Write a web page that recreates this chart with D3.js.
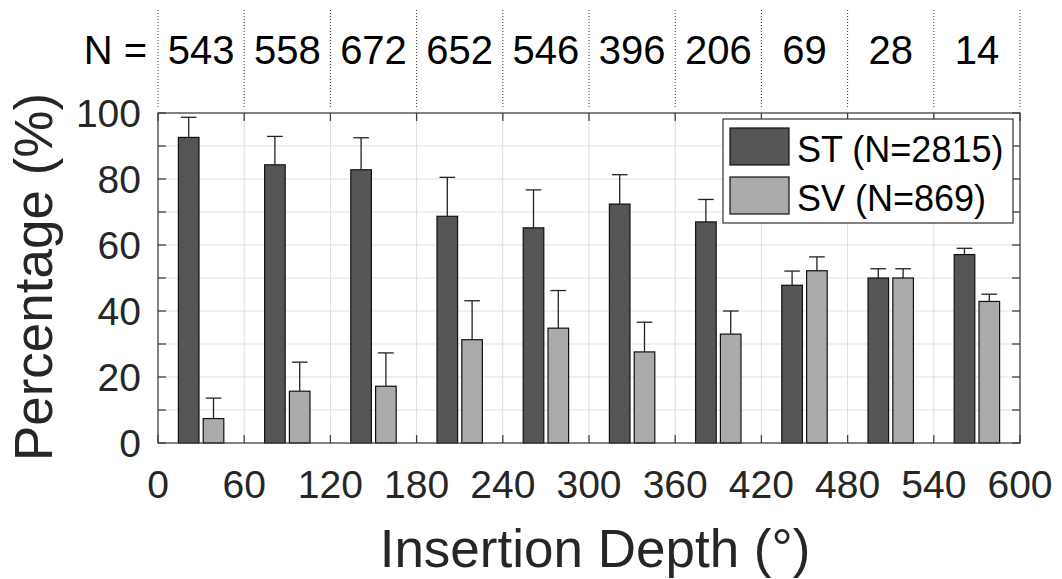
<!DOCTYPE html>
<html>
<head>
<meta charset="utf-8">
<script src="https://cdn.jsdelivr.net/npm/d3@7"></script>
<style>
  html, body { margin: 0; padding: 0; background: #fff; }
  svg { display: block; font-family: "Liberation Sans", Arial, Helvetica, sans-serif; }
</style>
</head>
<body>
<svg id="chart" width="1062" height="579"></svg>
<script>
// ---- data ----
const binStarts = [0, 60, 120, 180, 240, 300, 360, 420, 480, 540];
const binWidth = 60;
const nCounts = ["543", "558", "672", "652", "546", "396", "206", "69", "28", "14"];
const stValues = [92.6, 84.3, 82.8, 68.7, 65.2, 72.4, 67.0, 47.8, 50.0, 57.1];
const svValues = [7.4, 15.7, 17.2, 31.3, 34.8, 27.6, 33.0, 52.2, 50.0, 42.9];
const stErrors = [6.1, 8.6, 9.7, 11.8, 11.5, 8.9, 6.8, 4.3, 2.8, 1.9];
const svErrors = [6.2, 8.8, 10.1, 11.8, 11.4, 9.0, 7.0, 4.2, 2.8, 2.2];
const seriesNames = ["ST", "SV"];
const legendLabels = ["ST (N=2815)", "SV (N=869)"];
const seriesColors = ["#555555", "#aaaaaa"];
const xTicks = [0, 60, 120, 180, 240, 300, 360, 420, 480, 540, 600];
const yTicksMajor = [0, 20, 40, 60, 80, 100];
const yTicksMinor = [10, 30, 50, 70, 90];

// ---- layout ----
const svg = d3.select("#chart");
const L = 158, R = 1020, T = 113, B = 443;
const x = d3.scaleLinear().domain([0, 600]).range([L, R]);
const y = d3.scaleLinear().domain([0, 100]).range([B, T]);
const xInner = d3.scaleBand().domain(seriesNames).range([-15.8, 15.8]).paddingInner(0.17);

const textColor = "#262626";

// grid
const grid = svg.append("g");
grid.selectAll("line.gy").data(yTicksMinor.concat(yTicksMajor.slice(1, -1))).join("line")
  .attr("x1", L).attr("x2", R)
  .attr("y1", d => y(d)).attr("y2", d => y(d))
  .attr("stroke", "#e2e2e2").attr("stroke-width", 1.2);
grid.selectAll("line.gx").data(xTicks.slice(1, -1)).join("line")
  .attr("x1", d => x(d)).attr("x2", d => x(d))
  .attr("y1", T).attr("y2", B)
  .attr("stroke", "#dcdcdc").attr("stroke-width", 1);

// data table
const rows = binStarts.map((s, i) => ({
  center: s + binWidth / 2,
  vals: [
    { key: "ST", v: stValues[i], e: stErrors[i], c: seriesColors[0] },
    { key: "SV", v: svValues[i], e: svErrors[i], c: seriesColors[1] }
  ]
}));

const bw = xInner.bandwidth();
const groups = svg.append("g").selectAll("g").data(rows).join("g");
// error bars (upper only visible)
groups.each(function(r) {
  const g = d3.select(this);
  r.vals.forEach(d => {
    const cx = x(r.center + xInner(d.key) + bw / 2);
    const capHalf = (x(bw) - x(0)) * 0.38;
    g.append("line")
      .attr("x1", cx).attr("x2", cx)
      .attr("y1", y(d.v)).attr("y2", y(d.v + d.e))
      .attr("stroke", "#222").attr("stroke-width", 1.3);
    g.append("line")
      .attr("x1", cx - capHalf).attr("x2", cx + capHalf)
      .attr("y1", y(d.v + d.e)).attr("y2", y(d.v + d.e))
      .attr("stroke", "#222").attr("stroke-width", 1.3);
  });
});
groups.selectAll("rect").data(r => r.vals.map(v => Object.assign({ center: r.center }, v))).join("rect")
  .attr("x", d => x(d.center + xInner(d.key)))
  .attr("width", x(bw) - x(0))
  .attr("y", d => y(d.v))
  .attr("height", d => y(0) - y(d.v))
  .attr("fill", d => d.c)
  .attr("stroke", "#111").attr("stroke-width", 1.2);

// axes box
const axisColor = "#404040";
svg.append("rect").attr("x", L).attr("y", T).attr("width", R - L).attr("height", B - T)
  .attr("fill", "none").attr("stroke", axisColor).attr("stroke-width", 1.3);

// ticks
const tickLen = 8;
const allY = yTicksMajor.concat(yTicksMinor);
svg.append("g").selectAll("line").data(allY).join("line")
  .attr("x1", L).attr("x2", L + tickLen).attr("y1", d => y(d)).attr("y2", d => y(d))
  .attr("stroke", axisColor).attr("stroke-width", 1.3);
svg.append("g").selectAll("line").data(allY).join("line")
  .attr("x1", R).attr("x2", R - tickLen).attr("y1", d => y(d)).attr("y2", d => y(d))
  .attr("stroke", axisColor).attr("stroke-width", 1.3);
svg.append("g").selectAll("line").data(xTicks).join("line")
  .attr("x1", d => x(d)).attr("x2", d => x(d)).attr("y1", B).attr("y2", B - tickLen)
  .attr("stroke", axisColor).attr("stroke-width", 1.3);
svg.append("g").selectAll("line").data(xTicks).join("line")
  .attr("x1", d => x(d)).attr("x2", d => x(d)).attr("y1", T).attr("y2", T + tickLen)
  .attr("stroke", axisColor).attr("stroke-width", 1.3);

// tick labels
svg.append("g").selectAll("text").data(yTicksMajor).join("text")
  .attr("x", 141).attr("y", d => y(d)).attr("dy", "0.36em")
  .attr("text-anchor", "end").attr("font-size", 39).attr("fill", textColor)
  .text(d => d);
svg.append("g").selectAll("text").data(xTicks).join("text")
  .attr("x", d => x(d)).attr("y", 498)
  .attr("text-anchor", "middle").attr("font-size", 39).attr("fill", textColor)
  .text(d => d);

// axis titles
svg.append("text").attr("x", 595).attr("y", 567).attr("text-anchor", "middle")
  .attr("font-size", 53).attr("fill", textColor).text("Insertion Depth (°)");
svg.append("text").attr("transform", "translate(52,277) rotate(-90)").attr("text-anchor", "middle")
  .attr("font-size", 53).attr("fill", textColor).text("Percentage (%)");

// top N labels with dotted separators
svg.append("g").selectAll("line").data(xTicks).join("line")
  .attr("x1", d => x(d)).attr("x2", d => x(d)).attr("y1", 10).attr("y2", 108)
  .attr("stroke", "#333").attr("stroke-width", 1).attr("stroke-dasharray", "1,2");
svg.append("g").selectAll("text").data(rows).join("text")
  .attr("x", (d) => x(d.center)).attr("y", 64).attr("text-anchor", "middle")
  .attr("font-size", 40).attr("fill", "#000")
  .text((d, i) => nCounts[i]);
svg.append("text").attr("x", 147).attr("y", 64).attr("text-anchor", "end")
  .attr("font-size", 40).attr("fill", "#000").text("N =");

// legend
const lg = svg.append("g");
lg.append("rect").attr("x", 723).attr("y", 119).attr("width", 290).attr("height", 104)
  .attr("fill", "#fff").attr("stroke", axisColor).attr("stroke-width", 1.3);
legendLabels.forEach((lab, i) => {
  lg.append("rect").attr("x", 730).attr("y", 128 + i * 49).attr("width", 59).attr("height", 37)
    .attr("fill", seriesColors[i]).attr("stroke", "#111").attr("stroke-width", 1.2);
  lg.append("text").attr("x", 797).attr("y", 162 + i * 49)
    .attr("font-size", 36).attr("fill", "#000").text(lab);
});
</script>
</body>
</html>
